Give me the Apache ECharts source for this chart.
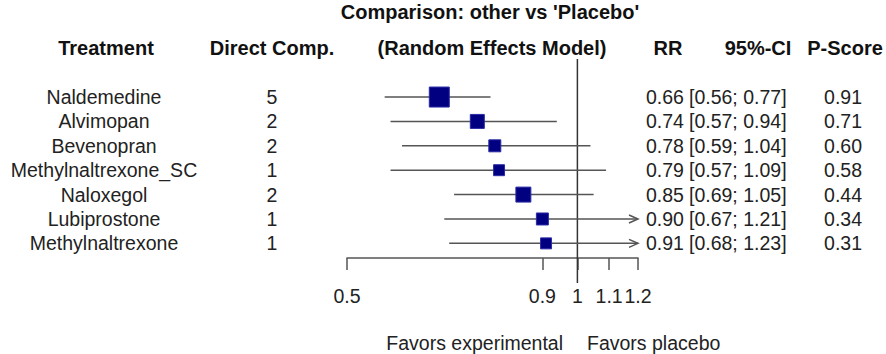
<!DOCTYPE html>
<html><head><meta charset="utf-8">
<script src="https://cdn.jsdelivr.net/npm/echarts@6/dist/echarts.min.js"></script>
<style>html,body{margin:0;padding:0;background:#fff}#c{width:886px;height:354px}</style>
</head><body><div id="c"></div>
<script>
// ---- data ----
const treatments = ['Naldemedine','Alvimopan','Bevenopran','Methylnaltrexone_SC','Naloxegol','Lubiprostone','Methylnaltrexone'];
const directComparisons = [5, 2, 2, 1, 2, 1, 1];
const rrValues = [0.66, 0.74, 0.78, 0.79, 0.85, 0.90, 0.91];
const ciLower = [0.56, 0.57, 0.59, 0.57, 0.69, 0.67, 0.68];
const ciUpper = [0.77, 0.94, 1.04, 1.09, 1.05, 1.21, 1.23];
const pScores = [0.91, 0.71, 0.60, 0.58, 0.44, 0.34, 0.31];
const relWeights = [1.0, 0.49, 0.36, 0.30, 0.56, 0.36, 0.30];
const xTickValues = [0.5, 0.9, 1, 1.1, 1.2];
const xMin = 0.5, xMax = 1.2;
const refValue = 1;

// ---- chart ----
const FONT = '"Liberation Sans", Arial, sans-serif';
const BODY = 19.5, HEAD = 20;
const TXT = '#222', LINE = '#555';
const chart = echarts.init(document.getElementById('c'), null, {renderer: 'svg'});

const forestData = treatments.map((t, i) => [rrValues[i], i, ciLower[i], ciUpper[i], relWeights[i]]);
const labelData = treatments.map((t, i) => [refValue, i]);
const fmt2 = v => v.toFixed(2);

function txt(text, x, y, align) {
  return {type: 'text', x: x, y: y, style: {text: text, align: align, verticalAlign: 'middle',
    fontSize: BODY, fontFamily: FONT, fill: TXT}};
}
function head(text, x, y, align, bold) {
  return {type: 'text', x: x, y: y, style: {text: text, align: align, verticalAlign: 'middle',
    fontSize: bold ? HEAD : BODY, fontWeight: bold ? 'bold' : 'normal', fontFamily: FONT, fill: bold ? '#111' : TXT}};
}

const option = {
  animation: false,
  backgroundColor: '#fff',
  grid: {left: 347, top: 59, width: 291, height: 199, containLabel: false, outerBoundsMode: 'none'},
  xAxis: {
    type: 'log', logBase: 10, min: xMin, max: xMax,
    axisLine: {show: true, onZero: false, lineStyle: {color: LINE, width: 1.5}},
    axisTick: {show: true, length: 12, customValues: xTickValues, lineStyle: {color: LINE, width: 1.5}},
    axisLabel: {customValues: xTickValues, margin: 28, fontSize: BODY, fontFamily: FONT, color: TXT,
      formatter: v => String(+(+v).toFixed(2))},
    splitLine: {show: false}, minorTick: {show: false}
  },
  yAxis: {type: 'value', inverse: true, min: -1.56, max: 6.6, show: false},
  graphic: [
    head("Comparison: other vs 'Placebo'", 490, 12, 'center', true),
    head('(Random Effects Model)', 492, 48, 'center', true),
    head('Treatment', 106, 48, 'center', true),
    head('Direct Comp.', 272, 48, 'center', true),
    head('RR', 668, 48, 'center', true),
    head('95%-CI', 758, 48, 'center', true),
    head('P-Score', 845, 48, 'center', true),
    head('Favors experimental', 563, 343, 'right', false),
    head('Favors placebo', 587, 343, 'left', false)
  ],
  series: [
    {
      // reference line at RR = 1
      type: 'custom', clip: false, silent: true, z: 1,
      data: [[refValue, 0]],
      renderItem: function (params, api) {
        const cs = params.coordSys;
        const p = api.coord([api.value(0), 0]);
        return {type: 'line', shape: {x1: p[0], y1: cs.y, x2: p[0], y2: cs.y + cs.height + 25},
          style: {stroke: '#333', lineWidth: 1.5}};
      }
    },
    {
      // confidence intervals and boxes
      type: 'custom', clip: false, silent: true, z: 2,
      data: forestData,
      renderItem: function (params, api) {
        const i = api.value(1), est = api.value(0), lo = api.value(2), hi = api.value(3), w = api.value(4);
        const pE = api.coord([est, i]);
        const pL = api.coord([Math.max(lo, xMin), i]);
        const pH = api.coord([Math.min(hi, xMax), i]);
        const s = 20 * Math.sqrt(w);
        const ch = [{type: 'line', shape: {x1: pL[0], y1: pL[1], x2: pH[0], y2: pH[1]}, style: {stroke: LINE, lineWidth: 1.5}}];
        if (hi > xMax) {
          ch.push({type: 'polyline', shape: {points: [[pH[0] - 9, pH[1] - 4], [pH[0], pH[1]], [pH[0] - 9, pH[1] + 4]]},
            style: {stroke: LINE, lineWidth: 1.5, fill: null}});
        }
        ch.push({type: 'rect', shape: {x: pE[0] - s / 2, y: pE[1] - s / 2, width: s, height: s},
          style: {fill: '#000080', stroke: '#2b2ba6', lineWidth: 1}});
        return {type: 'group', children: ch};
      }
    },
    {
      // table text columns
      type: 'custom', clip: false, silent: true, z: 3,
      data: labelData,
      renderItem: function (params, api) {
        const i = api.value(1);
        const y = api.coord([api.value(0), i])[1];
        return {type: 'group', children: [
          txt(treatments[i], 104, y, 'center'),
          txt(String(directComparisons[i]), 272, y, 'center'),
          txt(fmt2(rrValues[i]), 646, y, 'left'),
          txt('[' + fmt2(ciLower[i]) + '; ' + fmt2(ciUpper[i]) + ']', 689, y, 'left'),
          txt(fmt2(pScores[i]), 843, y, 'center')
        ]};
      }
    }
  ]
};
chart.setOption(option);
</script>
</body></html>
